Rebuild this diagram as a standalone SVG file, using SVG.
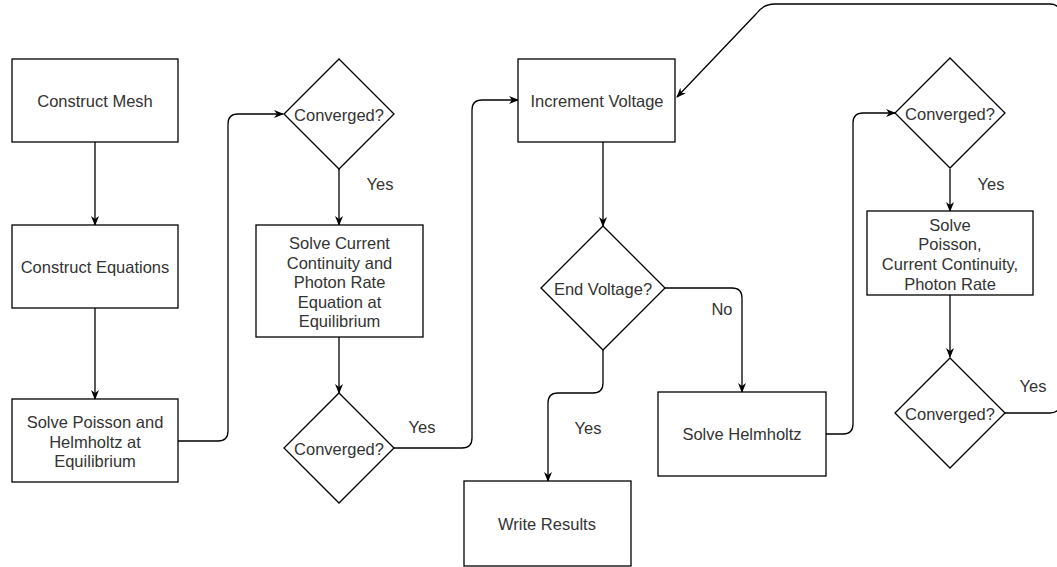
<svg xmlns="http://www.w3.org/2000/svg" width="1057" height="567" viewBox="0 0 1057 567">
<style>
.n{fill:#fff;stroke:#000;stroke-width:1.3}
.t{font-family:"Liberation Sans",Arial,sans-serif;font-size:16.5px;fill:#333;text-anchor:middle;dominant-baseline:central}
.c{fill:none;stroke:#000;stroke-width:1.3;marker-end:url(#ah)}
</style>
<defs>
<marker id="ah" viewBox="0 0 10 10" refX="9" refY="5" markerWidth="10" markerHeight="10" markerUnits="userSpaceOnUse" orient="auto">
<path d="M0,1 L10,5 L0,9 L3,5 Z" fill="#000"/>
</marker>
</defs>
<rect width="1057" height="567" fill="#fff"/>
<g id="connectors">
<path class="c" d="M95,142 L95,225"/>
<path class="c" d="M95,308 L95,399"/>
<path class="c" d="M178,441 L218,441 Q228,441 228,431 L228,124 Q228,114 238,114 L283,114"/>
<path class="c" d="M339,169 L339,225"/>
<path class="c" d="M339,337 L339,393"/>
<path class="c" d="M394,448 L462,448 Q472,448 472,438 L472,110 Q472,100 482,100 L518,100"/>
<path class="c" d="M603,142 L603,226"/>
<path class="c" d="M665,288 L732,288 Q742,288 742,298 L742,392"/>
<path class="c" d="M603,350 L603,383 Q603,393 593,393 L558,393 Q548,393 548,403 L548,481"/>
<path class="c" d="M826,434 L843,434 Q853,434 853,424 L853,123 Q853,113 863,113 L895,113"/>
<path class="c" d="M950,169 L950,211"/>
<path class="c" d="M950,295 L950,357"/>
<path class="c" d="M1005,413 L1050,413 Q1060,413 1060,403 L1060,14 Q1060,4 1050,4 L775,4 Q763,4 756,14 L677,97"/>
<text class="t" x="380" y="184">Yes</text>
<text class="t" x="422" y="427">Yes</text>
<text class="t" x="722" y="309">No</text>
<text class="t" x="588" y="428">Yes</text>
<text class="t" x="991" y="184">Yes</text>
<text class="t" x="1033" y="386">Yes</text>
</g>
<g id="construct-mesh">
<rect class="n" x="12" y="59" width="166" height="83"/>
<text class="t" x="95" y="101">Construct Mesh</text>
</g>
<g id="construct-equations">
<rect class="n" x="12" y="225" width="166" height="83"/>
<text class="t" x="95" y="267">Construct Equations</text>
</g>
<g id="solve-poisson-helmholtz">
<rect class="n" x="12" y="399" width="166" height="83"/>
<text class="t" x="95" y="422">Solve Poisson and</text>
<text class="t" x="95" y="441.5">Helmholtz at</text>
<text class="t" x="95" y="461">Equilibrium</text>
</g>
<g id="converged-1">
<polygon class="n" points="339,59 394,114 339,169 284,114"/>
<text class="t" x="339" y="115">Converged?</text>
</g>
<g id="solve-current-continuity">
<rect class="n" x="256" y="225" width="167" height="112"/>
<text class="t" x="339.5" y="243">Solve Current</text>
<text class="t" x="339.5" y="262.5">Continuity and</text>
<text class="t" x="339.5" y="282">Photon Rate</text>
<text class="t" x="339.5" y="301.5">Equation at</text>
<text class="t" x="339.5" y="321">Equilibrium</text>
</g>
<g id="converged-2">
<polygon class="n" points="339,393 394,448 339,503 284,448"/>
<text class="t" x="339" y="449">Converged?</text>
</g>
<g id="increment-voltage">
<rect class="n" x="518" y="59" width="157" height="83"/>
<text class="t" x="597" y="101">Increment Voltage</text>
</g>
<g id="end-voltage">
<polygon class="n" points="603,226 665,288 603,350 541,288"/>
<text class="t" x="603" y="289">End Voltage?</text>
</g>
<g id="write-results">
<rect class="n" x="464" y="481" width="167" height="85"/>
<text class="t" x="547" y="524">Write Results</text>
</g>
<g id="solve-helmholtz">
<rect class="n" x="658" y="392" width="168" height="84"/>
<text class="t" x="742" y="434">Solve Helmholtz</text>
</g>
<g id="converged-3">
<polygon class="n" points="950,58 1005,113 950,168 895,113"/>
<text class="t" x="950" y="114">Converged?</text>
</g>
<g id="solve-all">
<rect class="n" x="867" y="211" width="166" height="84"/>
<text class="t" x="950" y="225">Solve</text>
<text class="t" x="950" y="244">Poisson,</text>
<text class="t" x="950" y="264">Current Continuity,</text>
<text class="t" x="950" y="284">Photon Rate</text>
</g>
<g id="converged-4">
<polygon class="n" points="950,358 1005,413 950,468 895,413"/>
<text class="t" x="950" y="414">Converged?</text>
</g>
</svg>
